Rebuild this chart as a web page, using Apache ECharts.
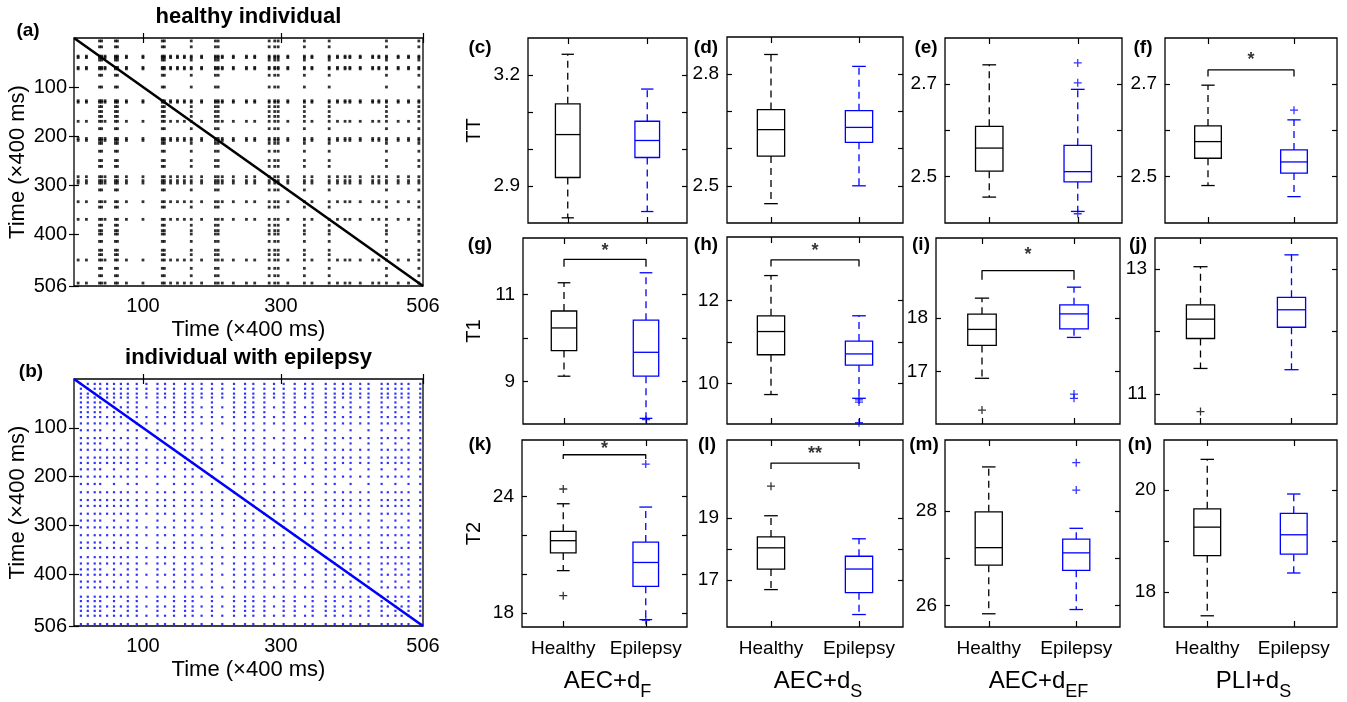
<!DOCTYPE html>
<html><head><meta charset="utf-8">
<script src="https://cdn.jsdelivr.net/npm/echarts@6/dist/echarts.min.js"></script>
<style>html,body{margin:0;padding:0;background:#fff}#c{width:1347px;height:702px}</style>
</head><body><div id="c"></div>
<script>
// ---------------- Recurrence plots (time index, x400 ms) ----------------
const rpMax = 506;
const rpXTicks = [100, 300, 506];
const rpYTicks = [100, 200, 300, 400, 506];
// healthy individual: recurrent "hub" times (dense rows/columns) and other recurrent times
const healthyHubs = [37, 40, 60, 63, 128, 131, 170, 205, 209, 283, 291, 296, 334, 370, 453, 500];
const healthyOthers = [6, 18, 45, 76, 100, 140, 150, 160, 185, 215, 231, 250, 262, 310, 345, 382, 393, 400, 415, 433, 442, 470, 485];
// individual with epilepsy: recurrent times (grid of rows/columns)
const epilepsyHubs = [10, 20, 30, 38, 58, 78, 91, 121, 145, 161, 172, 200, 232, 248, 260, 276, 304, 320, 346, 365, 378, 401, 427, 446, 466, 485, 502];
const epilepsyOthers = [48, 68, 105, 132, 185, 215, 290, 335, 390, 415, 455, 475];

// ---------------- Box plots ----------------
const groupNames = ['Healthy', 'Epilepsy'];
const measureNames = ['TT', 'T1', 'T2'];
const methodMain = ['AEC+d', 'AEC+d', 'AEC+d', 'PLI+d'];
const methodSub = ['F', 'S', 'EF', 'S'];
const panelLetters = ['c', 'd', 'e', 'f', 'g', 'h', 'i', 'j', 'k', 'l', 'm', 'n'];
// [lower whisker, Q1, median, Q3, upper whisker]
const healthyBoxes = [
  [2.814, 2.923, 3.039, 3.122, 3.256],
  [2.452, 2.580, 2.651, 2.705, 2.853],
  [2.456, 2.512, 2.562, 2.609, 2.742],
  [2.481, 2.540, 2.576, 2.610, 2.698],
  [9.12, 9.71, 10.23, 10.62, 11.27],
  [9.73, 10.69, 11.25, 11.63, 12.60],
  [16.875, 17.49, 17.79, 18.075, 18.375],
  [11.41, 11.89, 12.20, 12.43, 13.04],
  [20.18, 21.09, 21.72, 22.20, 23.62],
  [16.70, 17.36, 18.04, 18.39, 19.07],
  [25.82, 26.85, 27.22, 27.98, 28.93],
  [17.53, 18.71, 19.27, 19.63, 20.60]
];
const epilepsyBoxes = [
  [2.831, 2.977, 3.023, 3.075, 3.162],
  [2.500, 2.617, 2.657, 2.702, 2.821],
  [2.425, 2.489, 2.511, 2.568, 2.689],
  [2.457, 2.508, 2.532, 2.558, 2.623],
  [8.15, 9.12, 9.67, 10.41, 11.50],
  [9.64, 10.44, 10.71, 11.02, 11.63],
  [17.64, 17.80, 18.08, 18.25, 18.58],
  [11.39, 12.07, 12.35, 12.55, 13.23],
  [17.66, 19.37, 20.60, 21.65, 23.45],
  [15.90, 16.60, 17.36, 17.77, 18.33],
  [25.91, 26.74, 27.11, 27.40, 27.63],
  [18.37, 18.74, 19.12, 19.54, 19.92]
];
const healthyOutliers = [[], [], [], [], [], [], [16.28], [10.72], [24.38, 18.89], [20.02], [], []];
const epilepsyOutliers = [[], [], [2.746, 2.703, 2.420], [2.644], [8.12], [9.60, 9.55, 9.05], [16.58, 16.50], [], [25.66, 17.62], [], [29.02, 28.44], []];
const yMin = [2.8, 2.4, 2.4, 2.4, 8.02, 9.02, 16.02, 10.52, 17.28, 15.5, 25.54, 17.31];
const yMax = [3.3, 2.9, 2.8, 2.8, 12.3, 13.53, 19.5, 13.5, 26.9, 21.5, 29.5, 20.98];
const yTicks = [
  [2.9, 3.0, 3.1, 3.2], [2.5, 2.6, 2.7, 2.8], [2.5, 2.6, 2.7], [2.5, 2.6, 2.7],
  [9, 10, 11], [10, 11, 12], [17, 18], [11, 12, 13],
  [18, 20, 22, 24], [17, 18, 19], [26, 27, 28], [18, 19, 20]
];
const yTickLabels = [
  [2.9, 3.2], [2.5, 2.8], [2.5, 2.7], [2.5, 2.7],
  [9, 11], [10, 12], [17, 18], [11, 13],
  [18, 24], [17, 19], [26, 28], [18, 20]
];
const sigMarks = ['', '', '', '*', '*', '*', '*', '', '*', '**', '', ''];
// [bracket end, bracket bar, star position]
const sigLevels = [null, null, null, [2.717, 2.731, 2.760], [11.64, 11.81, 12.10], [12.82, 12.98, 13.29],
  [18.72, 18.89, 19.25], null, [25.92, 26.14, 26.66], [20.57, 20.76, 21.17], null, null];

// ---------------- layout ----------------
const FONT = '"Liberation Sans", Arial, Helvetica, sans-serif';
const BLACK = '#000000';
const BLUE = '#0000ff';
const rpRects = [[74, 38, 349, 248], [74, 379, 349, 247]];
const boxRects = [
  [528, 38, 159, 185], [727, 37, 176, 186], [945, 38, 177, 185], [1165, 38, 172, 185],
  [523, 238, 164, 186], [727, 237, 176, 187], [936, 238, 184, 186], [1155, 238, 182, 186],
  [522, 440, 165, 187], [727, 440, 176, 187], [945, 440, 175, 187], [1164, 440, 173, 187]
];

const grid = [], xAxis = [], yAxis = [], series = [], graphic = [];

function tick(values, len) {
  return { show: true, inside: true, length: len, customValues: values, lineStyle: { color: BLACK, width: 1.2 } };
}
function addFrame(rect, xc, yc) {
  const gi = grid.length;
  grid.push({ left: rect[0], top: rect[1], width: rect[2], height: rect[3], show: true, borderColor: BLACK, borderWidth: 1.3,
    backgroundColor: 'transparent', containLabel: false, outerBoundsMode: 'none' });
  const xi = xAxis.length, yi = yAxis.length;
  const bx = { gridIndex: gi, type: 'value', min: xc.min, max: xc.max, axisLine: { show: false }, splitLine: { show: false }, axisTick: tick(xc.ticks, xc.tickLen) };
  xAxis.push(Object.assign({}, bx, { position: 'bottom', axisLabel: xc.label }));
  xAxis.push(Object.assign({}, bx, { position: 'top', axisLabel: { show: false } }));
  const by = { gridIndex: gi, type: 'value', min: yc.min, max: yc.max, inverse: !!yc.inverse, axisLine: { show: false }, splitLine: { show: false }, axisTick: tick(yc.ticks, yc.tickLen) };
  yAxis.push(Object.assign({}, by, { position: 'left', axisLabel: yc.label }));
  yAxis.push(Object.assign({}, by, { position: 'right', axisLabel: { show: false } }));
  return { xi, yi };
}
function txt(x, y, text, size, bold, rot) {
  graphic.push({ type: 'text', x, y, rotation: rot || 0, silent: true,
    style: { text, fill: BLACK, fontSize: size, fontFamily: FONT, fontWeight: bold ? 'bold' : 'normal',
      align: 'center', verticalAlign: 'middle', textAlign: 'center', textVerticalAlign: 'middle' } });
}
function recurrencePairs(hubs, others) {
  const all = hubs.concat(others);
  const pts = [];
  hubs.forEach(a => all.forEach(b => {
    pts.push([a, b]);
    if (others.includes(b)) pts.push([b, a]);
  }));
  return pts;
}

// ---- recurrence plots ----
const rpSets = [
  { pts: recurrencePairs(healthyHubs, healthyOthers), color: BLACK, size: 2.8, title: 'healthy individual', letter: '(a)' },
  { pts: recurrencePairs(epilepsyHubs, epilepsyOthers), color: BLUE, size: 2.2, title: 'individual with epilepsy', letter: '(b)' }
];
rpSets.forEach((s, k) => {
  const r = rpRects[k];
  const { xi, yi } = addFrame(r,
    { min: 0, max: rpMax, ticks: rpXTicks, tickLen: 5,
      label: { show: true, customValues: rpXTicks, fontSize: 20, fontFamily: FONT, color: BLACK, margin: 10, showMaxLabel: true } },
    { min: 0, max: rpMax, inverse: true, ticks: rpYTicks, tickLen: 5,
      label: { show: true, customValues: rpYTicks, fontSize: 20, fontFamily: FONT, color: BLACK, margin: 7, showMaxLabel: true } });
  series.push({ type: 'scatter', xAxisIndex: xi, yAxisIndex: yi, data: s.pts, symbol: 'rect', symbolSize: s.size,
    itemStyle: { color: s.color }, silent: true, animation: false });
  series.push({ type: 'line', xAxisIndex: xi, yAxisIndex: yi, data: [[0, 0], [rpMax, rpMax]], symbol: 'none',
    lineStyle: { color: s.color, width: 2.6 }, silent: true, animation: false });
  const cx = r[0] + r[2] / 2;
  txt(cx, r[1] - 21, s.title, 22, true);
  txt(k === 0 ? 28 : 31, r[1] - 7, s.letter, 19, true);
  txt(cx, r[1] + r[3] + 44, 'Time (\u00d7400 ms)', 22, false);
  txt(18, r[1] + r[3] / 2, 'Time (\u00d7400 ms)', 22, false, Math.PI / 2);
});

// ---- box plots ----
const PLUS = 'path://M0,4.2H10V5.8H0Z M4.2,0H5.8V10H4.2Z';
const letterPos = [[480, 48], [706, 48], [926, 48], [1143, 48], [480, 245], [706, 245], [921, 245], [1138, 245], [480, 445], [707, 445], [924, 445], [1140, 445]];
for (let i = 0; i < 12; i++) {
  const row = Math.floor(i / 4), col = i % 4;
  const r = boxRects[i];
  const { xi, yi } = addFrame(r,
    { min: 0.5, max: 2.5, ticks: [1, 2], tickLen: 6,
      label: row === 2 ? { show: true, customValues: [1, 2], formatter: v => groupNames[Math.round(v) - 1], fontSize: 19, fontFamily: FONT, color: BLACK, margin: 12 } : { show: false } },
    { min: yMin[i], max: yMax[i], ticks: yTicks[i], tickLen: 5,
      label: { show: true, customValues: yTickLabels[i], fontSize: 19, fontFamily: FONT, color: BLACK, margin: 8 } });
  series.push({
    type: 'custom', xAxisIndex: xi, yAxisIndex: yi, clip: false, silent: true, animation: false,
    data: [[1].concat(healthyBoxes[i]), [2].concat(epilepsyBoxes[i])],
    renderItem: (params, api) => {
      const x = api.value(0);
      const color = x === 1 ? BLACK : BLUE;
      const lo = api.coord([x, api.value(1)]), q1 = api.coord([x, api.value(2)]), md = api.coord([x, api.value(3)]);
      const q3 = api.coord([x, api.value(4)]), hi = api.coord([x, api.value(5)]);
      const unit = api.size([1, 0])[0];
      const bw = unit * 0.31, cw = bw * 0.5, cx = md[0];
      const solid = { stroke: color, lineWidth: 1.3, fill: null };
      const dashed = { stroke: color, lineWidth: 1.3, lineDash: [7, 5], fill: null };
      return { type: 'group', children: [
        { type: 'line', shape: { x1: cx, y1: q3[1], x2: cx, y2: hi[1] }, style: dashed },
        { type: 'line', shape: { x1: cx, y1: q1[1], x2: cx, y2: lo[1] }, style: dashed },
        { type: 'line', shape: { x1: cx - cw / 2, y1: hi[1], x2: cx + cw / 2, y2: hi[1] }, style: solid },
        { type: 'line', shape: { x1: cx - cw / 2, y1: lo[1], x2: cx + cw / 2, y2: lo[1] }, style: solid },
        { type: 'rect', shape: { x: cx - bw / 2, y: q3[1], width: bw, height: q1[1] - q3[1] }, style: { stroke: color, lineWidth: 1.3, fill: '#ffffff' } },
        { type: 'line', shape: { x1: cx - bw / 2, y1: md[1], x2: cx + bw / 2, y2: md[1] }, style: solid }
      ] };
    }
  });
  const outs = healthyOutliers[i].map(v => [1, v]).concat(epilepsyOutliers[i].map(v => [2, v]));
  if (outs.length) {
    series.push({ type: 'scatter', xAxisIndex: xi, yAxisIndex: yi, data: outs, symbol: PLUS, symbolSize: 8, silent: true, animation: false,
      itemStyle: { color: p => (p.value[0] === 1 ? BLACK : BLUE) } });
  }
  if (sigMarks[i]) {
    const s = sigLevels[i];
    series.push({ type: 'line', xAxisIndex: xi, yAxisIndex: yi, data: [[1, s[0]], [1, s[1]], [2, s[1]], [2, s[0]]], symbol: 'none',
      lineStyle: { color: BLACK, width: 1.3 }, silent: true, animation: false });
    series.push({ type: 'scatter', xAxisIndex: xi, yAxisIndex: yi, data: [[1.5, s[2]]], symbolSize: 1, silent: true, animation: false,
      itemStyle: { color: 'rgba(0,0,0,0)' },
      label: { show: true, position: 'inside', formatter: sigMarks[i], fontSize: 18, fontWeight: 'bold', fontFamily: FONT, color: BLACK, offset: [0, 4] } });
  }
  txt(letterPos[i][0], letterPos[i][1], '(' + panelLetters[i] + ')', 19, true);
  if (col === 0) txt(474, r[1] + r[3] / 2, measureNames[row], 20, false, Math.PI / 2);
  if (row === 2) {
    graphic.push({ type: 'text', x: r[0] + r[2] / 2 + (methodSub[col].length > 1 ? 6 : 3), y: 681, silent: true,
      style: { text: '{a|' + methodMain[col] + '}{s|' + methodSub[col] + '}', align: 'center', verticalAlign: 'middle',
        textAlign: 'center', textVerticalAlign: 'middle',
        rich: {
          a: { fontSize: 24, fontFamily: FONT, fill: BLACK, color: BLACK, lineHeight: 24, verticalAlign: 'top' },
          s: { fontSize: 18, fontFamily: FONT, fill: BLACK, color: BLACK, lineHeight: 18, padding: [14, 0, 0, 0], verticalAlign: 'top' }
        } } });
  }
}

const chart = echarts.init(document.getElementById('c'), null, { renderer: 'canvas' });
chart.setOption({ animation: false, backgroundColor: '#ffffff', grid, xAxis, yAxis, series, graphic });
</script>
</body></html>
